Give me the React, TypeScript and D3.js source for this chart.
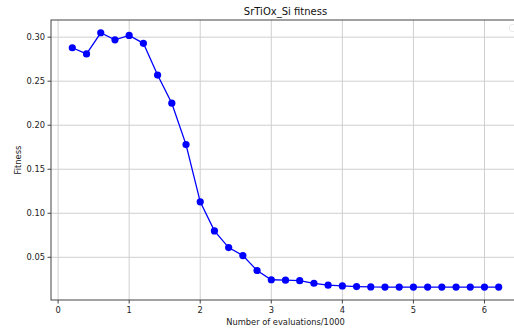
import React, { useEffect, useRef } from 'react';
import * as d3 from 'd3';

// evaluations (thousands) and best fitness at each step
const evaluations = [
  0.2, 0.4, 0.6, 0.8, 1.0, 1.2, 1.4, 1.6, 1.8, 2.0, 2.2, 2.4, 2.6, 2.8, 3.0, 3.2,
  3.4, 3.6, 3.8, 4.0, 4.2, 4.4, 4.6, 4.8, 5.0, 5.2, 5.4, 5.6, 5.8, 6.0, 6.2,
];
const fitness = [
  0.288, 0.281, 0.305, 0.297, 0.302, 0.293, 0.257, 0.225, 0.178, 0.113, 0.080,
  0.061, 0.052, 0.035, 0.0245, 0.024, 0.0235, 0.0205, 0.0183, 0.0175, 0.0168,
  0.0163, 0.0162, 0.0162, 0.0162, 0.0162, 0.0162, 0.0162, 0.0162, 0.0162, 0.0162,
];
const xTicks = [0, 1, 2, 3, 4, 5, 6];
const yTicks = [0.05, 0.1, 0.15, 0.2, 0.25, 0.3];

const App = () => {
  const ref = useRef<SVGSVGElement>(null);

  useEffect(() => {
    const svg = d3.select(ref.current);
    svg.selectAll('*').remove();

    const width = 514;
    const height = 334;
    const left = 51;
    const right = 520;
    const top = 20;
    const bottom = 300;
    const font = '"DejaVu Sans", sans-serif';

    const x = d3.scaleLinear().domain([-0.1, 6.5]).range([left, right]);
    const y = d3.scaleLinear().domain([0.0015, 0.3195]).range([bottom, top]);

    svg.attr('width', width).attr('height', height);

    // clip everything to the axes box
    svg.append('defs').append('clipPath').attr('id', 'plot-clip')
      .append('rect')
      .attr('x', left).attr('y', top)
      .attr('width', right - left).attr('height', bottom - top);

    const grid = svg.append('g').attr('stroke', '#cfcfcf').attr('stroke-width', 1);
    grid.selectAll('.gx')
      .data(xTicks)
      .enter()
      .append('line')
      .attr('x1', d => x(d)).attr('x2', d => x(d))
      .attr('y1', top).attr('y2', bottom);
    grid.selectAll('.gy')
      .data(yTicks)
      .enter()
      .append('line')
      .attr('x1', left).attr('x2', right)
      .attr('y1', d => y(d)).attr('y2', d => y(d));

    const data = evaluations.map((e, i) => ({ e, f: fitness[i] }));

    const plot = svg.append('g').attr('clip-path', 'url(#plot-clip)');

    const line = d3.line<{ e: number; f: number }>()
      .x(d => x(d.e))
      .y(d => y(d.f));

    plot.append('path')
      .datum(data)
      .attr('fill', 'none')
      .attr('stroke', '#0000ff')
      .attr('stroke-width', 1.3)
      .attr('d', line);

    plot.selectAll('.pt')
      .data(data)
      .enter()
      .append('circle')
      .attr('cx', d => x(d.e))
      .attr('cy', d => y(d.f))
      .attr('r', 3.6)
      .attr('fill', '#0000ff');

    // legend box, cut off at the right edge
    svg.append('rect')
      .attr('x', 509.5).attr('y', 24.5)
      .attr('width', 60).attr('height', 7)
      .attr('rx', 2.5)
      .attr('fill', 'white')
      .attr('fill-opacity', 0.8)
      .attr('stroke', '#ebebeb')
      .attr('stroke-width', 1);

    // spines
    svg.append('rect')
      .attr('x', left).attr('y', top)
      .attr('width', right - left).attr('height', bottom - top)
      .attr('fill', 'none')
      .attr('stroke', '#444')
      .attr('stroke-width', 1);

    // x ticks
    const xt = svg.append('g');
    xt.selectAll('line')
      .data(xTicks)
      .enter()
      .append('line')
      .attr('x1', d => x(d)).attr('x2', d => x(d))
      .attr('y1', bottom).attr('y2', bottom + 3.5)
      .attr('stroke', '#444');
    xt.selectAll('text')
      .data(xTicks)
      .enter()
      .append('text')
      .attr('x', d => x(d))
      .attr('y', bottom + 13)
      .attr('text-anchor', 'middle')
      .attr('font-family', font)
      .attr('font-size', '8.3px')
      .attr('fill', '#222')
      .text(d => d3.format('d')(d));

    // y ticks
    const yt = svg.append('g');
    yt.selectAll('line')
      .data(yTicks)
      .enter()
      .append('line')
      .attr('x1', left - 3.5).attr('x2', left)
      .attr('y1', d => y(d)).attr('y2', d => y(d))
      .attr('stroke', '#444');
    yt.selectAll('text')
      .data(yTicks)
      .enter()
      .append('text')
      .attr('x', left - 6)
      .attr('y', d => y(d))
      .attr('dy', '0.35em')
      .attr('text-anchor', 'end')
      .attr('font-family', font)
      .attr('font-size', '8.3px')
      .attr('fill', '#222')
      .text(d => d3.format('.2f')(d));

    // title
    svg.append('text')
      .attr('x', (left + right) / 2)
      .attr('y', 15)
      .attr('text-anchor', 'middle')
      .attr('font-family', font)
      .attr('font-size', '10px')
      .attr('fill', '#111')
      .text('SrTiOx_Si fitness');

    // axis labels
    svg.append('text')
      .attr('x', (left + right) / 2)
      .attr('y', 325)
      .attr('text-anchor', 'middle')
      .attr('font-family', font)
      .attr('font-size', '8.3px')
      .attr('fill', '#222')
      .text('Number of evaluations/1000');

    svg.append('text')
      .attr('transform', `translate(21,${(top + bottom) / 2}) rotate(-90)`)
      .attr('text-anchor', 'middle')
      .attr('font-family', font)
      .attr('font-size', '8.3px')
      .attr('fill', '#222')
      .text('Fitness');
  }, []);

  return (
    <svg
      ref={ref}
      style={{ position: 'absolute', left: 0, top: 0, background: 'white' }}
    />
  );
};

export default App;
